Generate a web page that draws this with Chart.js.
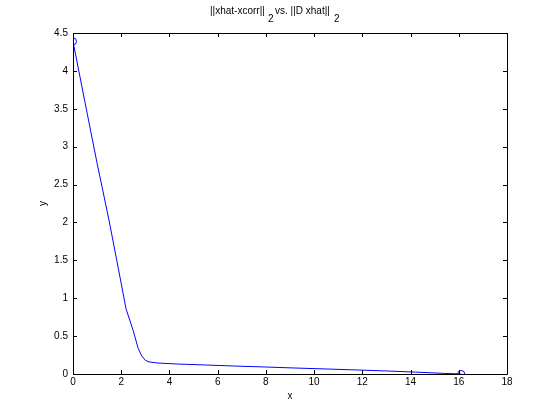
<!DOCTYPE html>
<html>
<head>
<meta charset="utf-8">
<script src="https://cdn.jsdelivr.net/npm/chart.js@4/dist/chart.umd.min.js"></script>
<style>
  html, body { margin: 0; padding: 0; background: #fff; }
  #wrap { width: 560px; height: 420px; }
</style>
</head>
<body>
<div id="wrap"><canvas id="myChart" width="560" height="420"></canvas></div>
<script>
'use strict'

// values
var xVals = [0, 0.5, 1, 1.5, 1.9, 2.2, 2.5, 2.7, 2.85, 3.0, 3.15, 3.5, 4.3, 5.5, 6.7, 8.0, 9.2, 10.5, 11.8, 13.0, 14.2, 15.4, 16.1];
var yVals = [4.39, 3.58, 2.78, 2.02, 1.36, 0.86, 0.57, 0.34, 0.24, 0.18, 0.16, 0.145, 0.132, 0.119, 0.105, 0.092, 0.079, 0.066, 0.053, 0.04, 0.025, 0.008, 0];
var xTicks = [0, 2, 4, 6, 8, 10, 12, 14, 16, 18];
var yTicks = [0, 0.5, 1, 1.5, 2, 2.5, 3, 3.5, 4, 4.5];
var titleParts = ["||xhat-xcorr||", "2", "vs. ||D xhat||", "2"];

var FONT = "Helvetica, Arial, 'Liberation Sans', sans-serif";

var points = xVals.map(function(x, i) {
    return { x: x, y: yVals[i] };
});

// box + inward ticks + title with subscripts, MATLAB style
var matlabBox = {
    id: 'matlabBox',
    afterDraw: function(chart) {
        var c = chart.ctx;
        var a = chart.chartArea;
        var xs = chart.scales.x, ys = chart.scales.y;
        var len = 4;
        c.save();
        c.strokeStyle = '#000';
        c.lineWidth = 1;
        c.beginPath();
        c.rect(Math.round(a.left) + 0.5, Math.round(a.top) + 0.5,
               Math.round(a.right - a.left), Math.round(a.bottom - a.top));
        xTicks.forEach(function(v) {
            var px = Math.round(xs.getPixelForValue(v)) + 0.5;
            c.moveTo(px, a.bottom); c.lineTo(px, a.bottom - len);
            c.moveTo(px, a.top); c.lineTo(px, a.top + len);
        });
        yTicks.forEach(function(v) {
            var py = Math.round(ys.getPixelForValue(v)) + 0.5;
            c.moveTo(a.left, py); c.lineTo(a.left + len, py);
            c.moveTo(a.right, py); c.lineTo(a.right - len, py);
        });
        c.stroke();

        // title
        var mid = (a.left + a.right) / 2;
        c.fillStyle = '#000';
        c.font = '10px ' + FONT;
        c.textBaseline = 'alphabetic';
        c.textAlign = 'left';
        c.fillText(titleParts[0], mid - 80, 14);
        c.fillText(titleParts[1], mid - 22, 22);
        c.fillText(titleParts[2], mid - 15, 14);
        c.fillText(titleParts[3], mid + 44, 22);
        c.restore();
    }
};

var ctx = document.getElementById("myChart").getContext("2d");

var myChart = new Chart(ctx, {
    type: 'line',
    data: {
        datasets: [{
            data: points,
            borderColor: '#0000ff',
            backgroundColor: 'rgba(0,0,0,0)',
            borderWidth: 1,
            tension: 0,
            fill: false,
            pointStyle: 'circle',
            pointBorderColor: '#0000ff',
            pointBackgroundColor: 'rgba(0,0,0,0)',
            pointBorderWidth: 1,
            pointRadius: function(c) {
                return (c.dataIndex === 0 || c.dataIndex === xVals.length - 1) ? 3.5 : 0;
            },
            pointHoverRadius: 0
        }]
    },
    options: {
        responsive: false,
        animation: false,
        layout: { padding: { top: 33, right: 53, bottom: 0, left: 0 } },
        plugins: {
            legend: { display: false },
            title: { display: false },
            tooltip: { enabled: false }
        },
        scales: {
            x: {
                type: 'linear',
                min: 0, max: 18,
                afterFit: function(s) { s.height = 46; },
                afterBuildTicks: function(s) { s.ticks = xTicks.map(function(v) { return { value: v }; }); },
                grid: { display: false, drawTicks: false },
                border: { display: false },
                ticks: {
                    color: '#000', font: { family: FONT, size: 10 }, padding: 2, maxRotation: 0, autoSkip: false,
                    callback: function(v) { return String(v); }
                },
                title: { display: true, text: 'x', color: '#000', font: { family: FONT, size: 10 }, padding: { top: 0, bottom: 18 } }
            },
            y: {
                type: 'linear',
                min: 0, max: 4.5,
                afterFit: function(s) { s.width = 73; },
                afterBuildTicks: function(s) { s.ticks = yTicks.map(function(v) { return { value: v }; }); },
                grid: { display: false, drawTicks: false },
                border: { display: false },
                ticks: {
                    color: '#000', font: { family: FONT, size: 10 }, padding: 5, autoSkip: false,
                    callback: function(v) { return String(v); }
                },
                title: { display: true, text: 'y', color: '#000', font: { family: FONT, size: 10 }, padding: { top: 37, bottom: 0 } }
            }
        }
    },
    plugins: [matlabBox]
});
</script>
</body>
</html>
